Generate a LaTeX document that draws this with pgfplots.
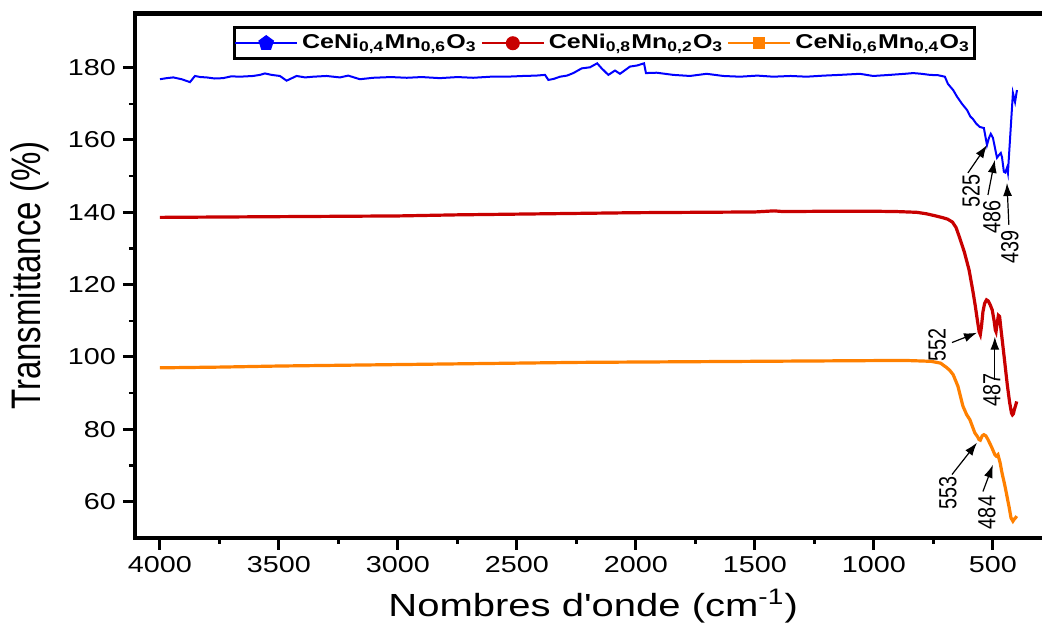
\documentclass[border=0pt]{standalone}
\usepackage{fontspec}
\setmainfont{Liberation Sans}
\usepackage{graphicx}
\usepackage{pgfplots}
\pgfplotsset{compat=1.18}
\usetikzlibrary{arrows.meta}
\definecolor{cblue}{RGB}{0,0,255}
\definecolor{cred}{RGB}{200,0,0}
\definecolor{corange}{RGB}{255,128,0}
\newcommand{\sx}[1]{\scalebox{1.25}[1]{#1}}
\newcommand{\sy}[1]{\scalebox{1}[1.25]{#1}}

\pgfplotstableread{
wn T
4000 176.8
3972 177.1
3944 177.3
3909 176.8
3874 176.0
3853 177.7
3830 177.4
3804 177.3
3770 177.0
3735 177.1
3700 177.6
3664 177.5
3609 177.7
3580 178.0
3559 178.4
3531 178.0
3496 177.7
3468 176.4
3426 177.7
3390 177.3
3356 177.5
3300 177.7
3244 177.3
3209 177.8
3160 176.8
3104 177.2
3030 177.4
2963 177.2
2900 177.4
2824 177.1
2750 177.4
2684 177.2
2610 177.5
2543 177.5
2474 177.7
2420 177.8
2382 178.0
2368 176.6
2345 176.9
2319 177.5
2290 177.8
2263 178.5
2228 179.8
2193 180.1
2163 181.2
2144 179.8
2116 178.0
2088 179.2
2067 178.3
2025 180.3
1995 180.6
1966 181.2
1958 178.5
1913 178.6
1843 178.0
1773 177.7
1703 178.3
1633 177.7
1563 177.5
1490 177.8
1423 177.5
1350 177.7
1283 177.5
1210 177.8
1143 178.0
1059 178.3
1003 177.7
933 178.0
870 178.3
835 178.5
800 178.3
765 178.0
730 177.9
702 177.5
689 175.5
667 173.8
651 172.0
630 170.0
609 168.3
595 166.5
584 165.8
570 164.5
555 163.6
538 163.3
525 158.6
517 160.5
509 161.7
500 160.6
492 158.0
483 155.1
475 155.8
467 156.4
462 155.3
454 151.2
448 151.0
441 152.3
437 150.9
416 173.0
407 170.5
399 173.8
}\blue

\pgfplotstableread{
wn T
4000 138.6
3750 138.7
3500 138.8
3250 138.9
3000 139.0
2750 139.3
2500 139.5
2250 139.7
2000 139.9
1750 140.0
1500 140.1
1420 140.4
1380 140.2
1200 140.3
1000 140.3
900 140.2
820 140.0
780 139.6
740 139.0
710 138.5
690 138.1
670 137.3
655 135.8
640 133.0
620 129.0
600 124.0
585 118.5
575 114.5
565 110.0
558 107.0
553 106.2
548 108.5
542 112.5
535 114.8
527 115.8
520 115.5
512 114.5
503 113.0
495 110.0
490 107.5
487 107.0
483 109.0
477 111.5
472 111.2
465 107.0
458 103.0
450 98.4
440 92.5
430 87.5
422 84.5
418 84.0
414 84.3
410 85.5
405 86.5
400 87.7
}\red

\pgfplotstableread{
wn T
4000 97.0
3750 97.2
3500 97.5
3250 97.7
3000 97.9
2750 98.1
2500 98.3
2250 98.5
2000 98.6
1750 98.7
1500 98.8
1250 98.9
1000 99.0
850 99.0
760 98.8
720 98.3
693 97.0
680 96.2
667 95.1
647 91.9
626 86.4
610 84.0
597 82.7
576 79.0
565 78.0
559 77.2
553 77.0
545 78.2
538 78.5
530 78.2
521 77.2
505 75.0
492 73.0
486 72.6
479 73.0
470 70.8
462 68.0
450 64.5
441 61.5
432 58.5
424 55.5
416 54.6
410 55.2
405 55.5
400 56.0
}\orange

\begin{document}
\begin{tikzpicture}
\begin{axis}[
  scale only axis,
  width=455.5pt, height=262.2pt,
  x dir=reverse,
  xmin=277, xmax=4105,
  ymin=50, ymax=195,
  xtick={500,1000,...,4000},
  ytick={60,80,...,180},
  minor x tick num=1, minor y tick num=1,
  tick align=outside,
  tick pos=left,
  major tick length=6pt, minor tick length=3pt,
  every major tick/.append style={line width=1.5pt, black},
  every minor tick/.append style={line width=1.2pt, black},
  axis line style={line width=2.3pt},
  /pgf/number format/.cd, 1000 sep={}, assume math mode=true,
  /pgfplots/.cd,
  xticklabel={\sx{\pgfmathprintnumber{\tick}}},
  yticklabel={\sx{\pgfmathprintnumber{\tick}}},
  tick label style={font=\fontsize{11.5}{13}\selectfont},
  xlabel={\sx{Nombres d\textquotesingle onde (cm\textsuperscript{-1})}},
  ylabel={\sy{Transmittance (\%)}},
  xlabel style={at={(axis description cs:0.503,-0.1303)}, anchor=center, font=\fontsize{16}{18}\selectfont},
  ylabel style={at={(axis description cs:-0.1153,0.5)}, anchor=center, font=\fontsize{16.5}{18}\selectfont},
  legend columns=3,
  legend style={at={(axis description cs:0.515,0.976)}, anchor=north, draw=black, line width=1.5pt,
    inner xsep=0pt, inner ysep=1.5pt, font=\fontsize{10}{12}\bfseries\selectfont,
    nodes={inner xsep=2pt},
    /tikz/every even column/.append style={column sep=0pt}},
  legend image code/.code={\draw[mark repeat=2,mark phase=2,#1] plot coordinates {(0pt,0pt) (15.5pt,0pt) (31pt,0pt)};},
]
\addplot[cblue, line width=1pt, forget plot] table[x=wn, y=T] {\blue};
\addplot[cred, line width=1.6pt, forget plot] table[x=wn, y=T] {\red};
\addplot[corange, line width=1.6pt, forget plot] table[x=wn, y=T] {\orange};

\addlegendimage{cblue, line width=1pt, mark=pentagon*, mark size=3.5pt, mark options={solid}}
\addlegendentry{\sx{CeNi\textsubscript{0,4}Mn\textsubscript{0,6}O\textsubscript{3}}}
\addlegendimage{cred, line width=1pt, mark=*, mark size=3pt, mark options={solid}}
\addlegendentry{\sx{CeNi\textsubscript{0,8}Mn\textsubscript{0,2}O\textsubscript{3}}}
\addlegendimage{corange, line width=1pt, mark=square*, mark size=2.5pt, mark options={solid}}
\addlegendentry{\sx{CeNi\textsubscript{0,6}Mn\textsubscript{0,4}O\textsubscript{3}}}

% annotations
\tikzset{ann/.style={rotate=90, font=\fontsize{9.9}{11}\selectfont, inner sep=0pt},
         arr/.style={line width=0.6pt, black, -{Latex[length=6.5pt,width=4.5pt]}}}
\node[ann] at (axis cs:592,145.9) {\sy{525}};
\draw[arr] (axis cs:605,150.9) -- (axis cs:525,158.6);
\node[ann] at (axis cs:504,138.7) {\sy{486}};
\draw[arr] (axis cs:521,144.8) -- (axis cs:492,154.5);
\node[ann] at (axis cs:429,130.4) {\sy{439}};
\draw[arr] (axis cs:433,136.5) -- (axis cs:441,148.1);

\node[ann] at (axis cs:735,103.4) {\sy{552}};
\draw[arr] (axis cs:672,104) -- (axis cs:567,106.7);
\node[ann] at (axis cs:504,90.9) {\sy{487}};
\draw[arr] (axis cs:492,93.7) -- (axis cs:492,105.6);

\node[ann] at (axis cs:689,62.5) {\sy{553}};
\draw[arr] (axis cs:672,67.5) -- (axis cs:567,76.3);
\node[ann] at (axis cs:525,57) {\sy{484}};
\draw[arr] (axis cs:542,62.8) -- (axis cs:500,70.2);
\end{axis}
\pgfresetboundingbox
\path[use as bounding box] ([xshift=-67.5pt,yshift=-45.2pt]current axis.south west) rectangle ([xshift=-2pt,yshift=6.7pt]current axis.north east);
\end{tikzpicture}
\end{document}
